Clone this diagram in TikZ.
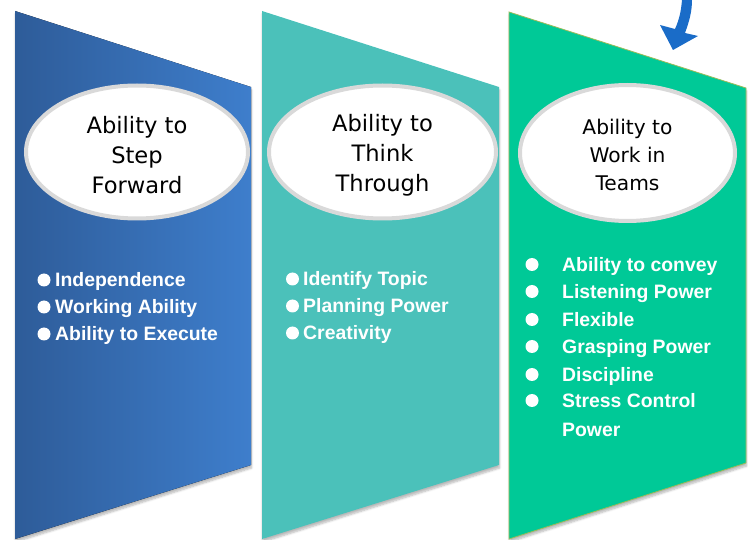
\documentclass[tikz,border=0pt]{standalone}
\usepackage{fontspec}
\setmainfont{Liberation Sans}
\newfontfamily\ovalfont{DejaVu Sans}
\usetikzlibrary{shapes.geometric,shadows.blur}

\definecolor{stepblueL}{HTML}{2E5C99}
\definecolor{stepblueR}{HTML}{3E7ECC}
\definecolor{thinkteal}{HTML}{4BC1BA}
\definecolor{teamgreen}{HTML}{00C997}
\definecolor{teamedge}{HTML}{9BBB59}
\definecolor{ovalrim}{HTML}{D9D9D9}
\definecolor{arrowblue}{HTML}{1A6CC8}

\tikzset{
  panel/.style={blur shadow={shadow xshift=0.5pt,shadow yshift=-3pt,shadow opacity=28,shadow blur steps=6}},
  oval/.style={ellipse,fill=white,draw=ovalrim,line width=4pt,inner sep=0pt},
  ovaltext/.style={align=center,inner sep=0pt,font=\ovalfont\fontsize{22.6}{30}\selectfont},
  itemtxt/.style={anchor=base west,inner sep=0pt,text=white,font=\bfseries\fontsize{19.4}{23}\selectfont},
  bulletdot/.style={fill=white}
}

\begin{document}
\begin{tikzpicture}[x=1pt,y=-1pt]
  \useasboundingbox (0,0) rectangle (748,540);

  % the three slanted panels
  \fill[panel,left color=stepblueL,right color=stepblueR]
    (15,11) -- (251,87) -- (251,465) -- (15,539) -- cycle;
  \fill[panel,thinkteal]
    (262,11) -- (499,87) -- (499,465) -- (262,539) -- cycle;
  \filldraw[panel,fill=teamgreen,draw=teamedge,line width=0.8pt]
    (509,12) -- (746,88) -- (746,463) -- (509,539) -- cycle;

  % headings in ovals
  \node[oval,minimum width=222,minimum height=133] (stepoval) at (137,152) {};
  \node[ovaltext] (steptitle) at ([yshift=-3.5pt]stepoval.center) {Ability to\\Step\\Forward};
  \node[oval,minimum width=227,minimum height=133] (thinkoval) at (382.5,152) {};
  \node[ovaltext] (thinktitle) at ([yshift=-3.5pt]thinkoval.center) {Ability to\\Think\\Through};
  \node[oval,minimum width=215,minimum height=136] (teamoval) at (627.5,153) {};
  \node[ovaltext,font=\ovalfont\fontsize{20.2}{28}\selectfont] (teamtitle)
    at ([yshift=-1.5pt]teamoval.center) {Ability to\\Work in\\Teams};

  % bullet lists
  \foreach \y/\t [count=\i] in {287/Independence,314/Working Ability,341/Ability to Execute} {
    \fill[bulletdot] (44,\y-7) circle (6.5);
    \node[itemtxt] (stepitem\i) at (55,\y) {\t};
  }
  \foreach \y/\t [count=\i] in {286/Identify Topic,313/Planning Power,340/Creativity} {
    \fill[bulletdot] (292.5,\y-7) circle (6.5);
    \node[itemtxt] (thinkitem\i) at (303,\y) {\t};
  }
  \foreach \y/\t [count=\i] in {272/Ability to convey,299/Listening Power,327/Flexible,
                                354/Grasping Power,382/Discipline,408/Stress Control} {
    \fill[bulletdot] (532,\y-7.5) circle (6.5);
    \node[itemtxt] (teamitem\i) at (562,\y) {\t};
  }
  \node[itemtxt] (teamitem7) at (562,437) {Power};

  % blue pointer at the top
  \fill[arrowblue] (682,0) .. controls (681,12) and (679,20) .. (675,29)
    -- (660,25) -- (673,50) -- (698,36) -- (685,33)
    .. controls (689,22) and (692,12) .. (692,0) -- cycle;
\end{tikzpicture}
\end{document}
